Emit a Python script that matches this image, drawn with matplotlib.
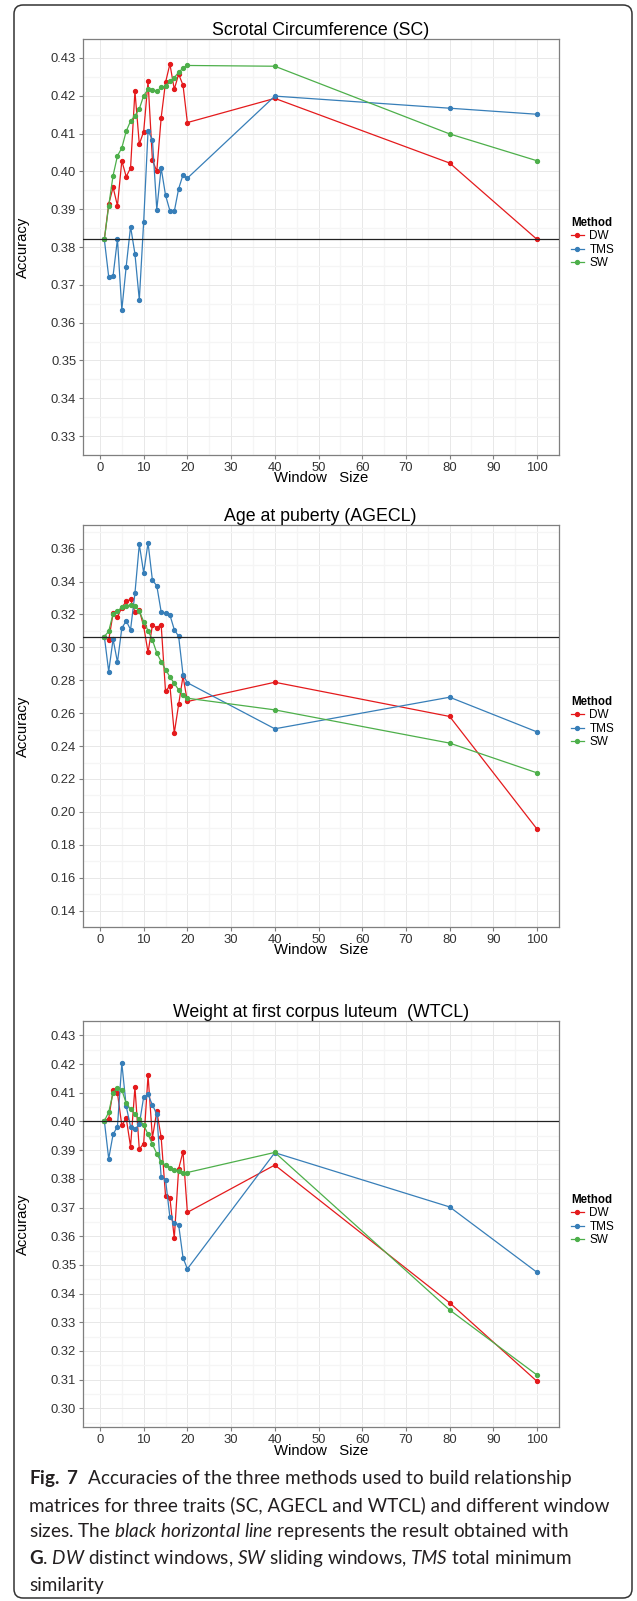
import matplotlib.pyplot as plt
from matplotlib.lines import Line2D
from matplotlib.patches import FancyBboxPatch
from matplotlib.transforms import IdentityTransform

plt.rcParams['font.family'] = ['Liberation Sans', 'DejaVu Sans']
plt.rcParams['mathtext.fontset'] = 'custom'
plt.rcParams['mathtext.rm'] = 'Lato'
plt.rcParams['mathtext.it'] = 'Lato:italic'
plt.rcParams['mathtext.bf'] = 'Lato:bold'

# window sizes
window = [1, 2, 3, 4, 5, 6, 7, 8, 9, 10, 11, 12, 13, 14, 15, 16, 17, 18, 19, 20, 40, 80, 100]

# Scrotal circumference
sc_dw = [0.3820, 0.3913, 0.3958, 0.3909, 0.4028, 0.3986, 0.4009, 0.4212, 0.4072, 0.4105, 0.4238, 0.4030,
         0.4000, 0.4142, 0.4235, 0.4284, 0.4217, 0.4257, 0.4228, 0.4129, 0.4193, 0.4022, 0.3820]
sc_tms = [0.3820, 0.3721, 0.3724, 0.3821, 0.3634, 0.3748, 0.3854, 0.3782, 0.3660, 0.3867, 0.4107, 0.4084,
          0.3899, 0.4009, 0.3937, 0.3896, 0.3894, 0.3954, 0.3991, 0.3982, 0.4199, 0.4167, 0.4151]
sc_sw = [0.3820, 0.3909, 0.3989, 0.4041, 0.4062, 0.4106, 0.4133, 0.4147, 0.4165, 0.4200, 0.4217, 0.4215,
         0.4212, 0.4222, 0.4226, 0.4238, 0.4248, 0.4262, 0.4273, 0.4280, 0.4278, 0.4099, 0.4028]
sc_g = 0.3820

# Age at puberty
ag_dw = [0.3066, 0.3044, 0.3206, 0.3185, 0.3242, 0.3280, 0.3292, 0.3216, 0.3227, 0.3128, 0.2969, 0.3135,
         0.3120, 0.3138, 0.2732, 0.2768, 0.2479, 0.2653, 0.2825, 0.2671, 0.2788, 0.2580, 0.1895]
ag_tms = [0.3066, 0.2853, 0.3050, 0.2910, 0.3117, 0.3161, 0.3108, 0.3329, 0.3626, 0.3454, 0.3636, 0.3408,
          0.3375, 0.3216, 0.3206, 0.3197, 0.3108, 0.3067, 0.2834, 0.2785, 0.2505, 0.2697, 0.2486]
ag_sw = [0.3066, 0.3098, 0.3205, 0.3220, 0.3244, 0.3254, 0.3256, 0.3250, 0.3220, 0.3157, 0.3102, 0.3045,
         0.2966, 0.2914, 0.2865, 0.2821, 0.2781, 0.2742, 0.2711, 0.2691, 0.2620, 0.2418, 0.2237]
ag_g = 0.3066

# Weight at first corpus luteum
wt_dw = [0.4002, 0.4010, 0.4108, 0.4099, 0.3986, 0.4012, 0.3912, 0.4119, 0.3903, 0.3923, 0.4161, 0.3943,
         0.4035, 0.3945, 0.3741, 0.3733, 0.3593, 0.3835, 0.3894, 0.3683, 0.3848, 0.3368, 0.3094]
wt_tms = [0.4002, 0.3870, 0.3955, 0.3982, 0.4203, 0.4053, 0.3982, 0.3973, 0.3990, 0.4085, 0.4094, 0.4057,
          0.4026, 0.3806, 0.3797, 0.3666, 0.3646, 0.3640, 0.3525, 0.3486, 0.3891, 0.3702, 0.3474]
wt_sw = [0.4002, 0.4032, 0.4100, 0.4116, 0.4110, 0.4063, 0.4042, 0.4026, 0.4007, 0.3987, 0.3955, 0.3920,
         0.3888, 0.3858, 0.3848, 0.3839, 0.3832, 0.3827, 0.3821, 0.3822, 0.3892, 0.3343, 0.3116]
wt_g = 0.4002

methods = ['DW', 'TMS', 'SW']
colors = ['#E41A1C', '#377EB8', '#4DAF4A']
titles = ['Scrotal Circumference (SC)', 'Age at puberty (AGECL)', 'Weight at first corpus luteum  (WTCL)']
xticks = [0, 10, 20, 30, 40, 50, 60, 70, 80, 90, 100]
yticks_sc = [0.33, 0.34, 0.35, 0.36, 0.37, 0.38, 0.39, 0.40, 0.41, 0.42, 0.43]
yticks_ag = [0.14, 0.16, 0.18, 0.20, 0.22, 0.24, 0.26, 0.28, 0.30, 0.32, 0.34, 0.36]
yticks_wt = [0.30, 0.31, 0.32, 0.33, 0.34, 0.35, 0.36, 0.37, 0.38, 0.39, 0.40, 0.41, 0.42, 0.43]

W, H = 637, 1601
fig = plt.figure(figsize=(W / 100, H / 100), dpi=100)


def px_rect(l, t, r, b):
    return [l / W, 1 - b / H, (r - l) / W, (b - t) / H]


# panel boxes in pixels (left, top, right, bottom) and y limits
panels = [
    (titles[0], [sc_dw, sc_tms, sc_sw], sc_g, (82.7, 39, 558.7, 455), (0.3254, 0.4330), yticks_sc),
    (titles[1], [ag_dw, ag_tms, ag_sw], ag_g, (82.7, 525, 558.7, 927), (0.1361, 0.3744), yticks_ag),
    (titles[2], [wt_dw, wt_tms, wt_sw], wt_g, (82.7, 1021, 558.7, 1427.3), (0.2934, 0.4330), yticks_wt),
]

for title, series, g, box, ylim, yticks in panels:
    ax = fig.add_axes(px_rect(*box))
    ax.set_xlim(1 - 4.95, 100 + 4.95)
    ax.set_ylim(*ylim)
    ax.set_xticks(xticks)
    ax.set_xticks([5, 15, 25, 35, 45, 55, 65, 75, 85, 95], minor=True)
    ax.set_yticks(yticks)
    step = yticks[1] - yticks[0]
    ax.set_yticks([v + step / 2 for v in yticks[:-1]] + [yticks[0] - step / 2, yticks[-1] + step / 2], minor=True)
    ax.set_yticklabels(['%.2f' % v for v in yticks])
    ax.grid(which='major', color='#E8E8E8', lw=0.7, zorder=0)
    ax.grid(which='minor', color='#F5F5F5', lw=0.9, zorder=0)
    ax.set_axisbelow(True)
    ax.tick_params(which='major', length=3.2, width=0.8, color='#7F7F7F',
                   labelsize=9.4, labelcolor='#333333', pad=1.5)
    ax.tick_params(which='minor', length=0)
    for sp in ax.spines.values():
        sp.set_color('#7F7F7F')
        sp.set_linewidth(0.9)

    for vals, name, c in zip(series, methods, colors):
        ax.plot(window, vals, color=c, lw=0.9, marker='o', ms=2.8, label=name, zorder=3)
    ax.axhline(g, color='#222222', lw=0.9, zorder=4)

    ax.set_title(title, fontsize=12.8, pad=2)

    l, t, r, b = box
    fig.text(22.5 / W, 1 - (t + b) / 2 / H, 'Accuracy', rotation=90, fontsize=10.7,
             ha='center', va='center')
    fig.text((l + r) / 2 / W, 1 - (b + 23.3) / H, 'Window   Size', fontsize=10.7,
             ha='center', va='center')

    handles = [Line2D([], [], color=c, lw=0.9, marker='o', ms=2.8) for c in colors]
    leg = ax.legend(handles, methods, title='Method', loc='center left',
                    bbox_to_anchor=(571 / W, 1 - ((t + b) / 2 - 4) / H),
                    bbox_transform=fig.transFigure, frameon=False, fontsize=8.5,
                    title_fontproperties={'weight': 'bold', 'size': 8.3},
                    borderpad=0, borderaxespad=0, handlelength=1.1, handletextpad=0.45,
                    labelspacing=0.12, alignment='left')

# caption
cap_lines = [
    r"$\mathbf{Fig.\ 7}$  Accuracies of the three methods used to build relationship",
    "matrices for three traits (SC, AGECL and WTCL) and different window",
    r"sizes. The $\mathit{black\ horizontal\ line}$ represents the result obtained with",
    r"$\mathbf{G}$. $\mathit{DW}$ distinct windows, $\mathit{SW}$ sliding windows, $\mathit{TMS}$ total minimum",
    "similarity",
]
cap_base = [1484, 1510.7, 1537.4, 1564, 1590.7]

renderer = fig.canvas.get_renderer()
probe = fig.text(0, 0, cap_lines[1], family='Lato', fontsize=15)
size = 15 * 580 / probe.get_window_extent(renderer).width
probe.remove()
for s, yb in zip(cap_lines, cap_base):
    fig.text(29 / W, 1 - yb / H, s, family='Lato', fontsize=size, color='#231F20',
             ha='left', va='baseline')

# outer frame
frame = FancyBboxPatch((14, 3), 618, 1593, boxstyle='round,pad=0,rounding_size=9',
                       transform=IdentityTransform(), fill=False, ec='#333333', lw=1.1)
fig.patches.append(frame)

fig.savefig('out.png', dpi=100)
